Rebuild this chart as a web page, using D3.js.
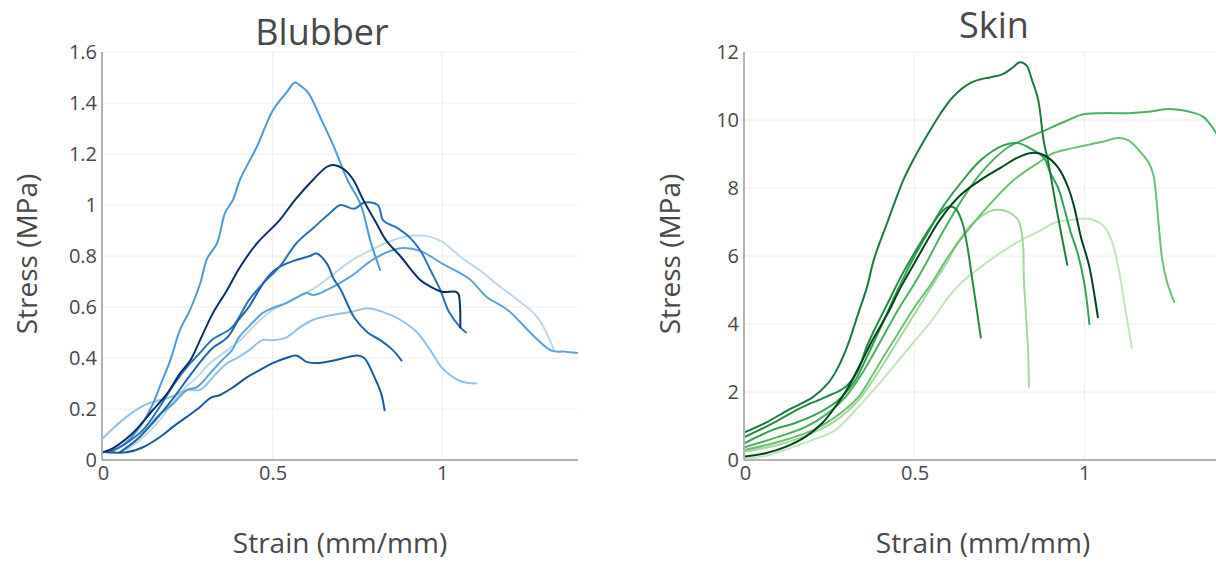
<!DOCTYPE html>
<html><head><meta charset="utf-8">
<script src="https://cdn.jsdelivr.net/npm/d3@7"></script>
<style>body{margin:0;background:#fff;}svg{display:block;font-family:"Open Sans",sans-serif;}</style>
</head><body><svg id="c" width="1216" height="563"></svg>
<script>
// ---- Data ----
const panelTitles = ["Blubber", "Skin"];
const xTickValues = [0, 0.5, 1];
const xTickLabels = ["0", "0.5", "1"];
const blubberYTicks = [0, 0.2, 0.4, 0.6, 0.8, 1, 1.2, 1.4, 1.6];
const blubberYTickLabels = ["0", "0.2", "0.4", "0.6", "0.8", "1", "1.2", "1.4", "1.6"];
const skinYTicks = [0, 2, 4, 6, 8, 10, 12];
const skinYTickLabels = ["0", "2", "4", "6", "8", "10", "12"];

const blubberColors = ["#bcd7ee", "#92c3e4", "#5ba3d8", "#4b9bd5", "#2b72b8", "#2166ac", "#175aa0", "#0a2f6b"];
const blubberSeries = [
  // lightest, peak ~0.88
  [[0.07,0.04],[0.109,0.078],[0.16,0.145],[0.198,0.21],[0.236,0.275],[0.277,0.325],[0.316,0.38],[0.366,0.43],[0.404,0.47],[0.454,0.537],[0.50,0.59],[0.54,0.615],[0.63,0.68],[0.67,0.72],[0.73,0.78],[0.77,0.81],[0.85,0.86],[0.914,0.88],[0.965,0.875],[1.0,0.855],[1.06,0.79],[1.11,0.745],[1.16,0.69],[1.22,0.63],[1.28,0.56],[1.33,0.43]],
  // peak ~0.59
  [[0,0.086],[0.07,0.17],[0.13,0.22],[0.168,0.235],[0.206,0.25],[0.248,0.275],[0.286,0.275],[0.324,0.325],[0.366,0.38],[0.395,0.40],[0.43,0.43],[0.47,0.47],[0.50,0.47],[0.54,0.48],[0.58,0.52],[0.62,0.55],[0.68,0.57],[0.73,0.58],[0.78,0.595],[0.826,0.58],[0.876,0.55],[0.926,0.50],[0.965,0.43],[1.0,0.36],[1.053,0.31],[1.1,0.30]],
  // peak ~0.83, ends at 1.4
  [[0.05,0.03],[0.1,0.08],[0.168,0.18],[0.206,0.22],[0.248,0.275],[0.277,0.286],[0.316,0.34],[0.35,0.39],[0.38,0.43],[0.40,0.48],[0.44,0.537],[0.47,0.576],[0.50,0.596],[0.54,0.615],[0.60,0.655],[0.62,0.647],[0.66,0.667],[0.73,0.72],[0.80,0.79],[0.876,0.83],[0.935,0.82],[1.0,0.77],[1.08,0.71],[1.13,0.64],[1.18,0.60],[1.2,0.58],[1.32,0.43],[1.36,0.425],[1.40,0.42]],
  // peak ~1.48
  [[0,0.03],[0.05,0.05],[0.109,0.13],[0.147,0.22],[0.168,0.29],[0.198,0.39],[0.227,0.51],[0.257,0.59],[0.286,0.69],[0.307,0.79],[0.336,0.85],[0.36,0.97],[0.383,1.02],[0.404,1.10],[0.454,1.23],[0.50,1.37],[0.54,1.44],[0.566,1.48],[0.58,1.47],[0.605,1.44],[0.64,1.345],[0.68,1.23],[0.72,1.1],[0.76,1.0],[0.79,0.85],[0.817,0.745]],
  // peak ~1.0
  [[0.02,0.03],[0.07,0.067],[0.118,0.118],[0.168,0.21],[0.206,0.29],[0.248,0.365],[0.286,0.42],[0.32,0.47],[0.38,0.52],[0.43,0.627],[0.47,0.69],[0.52,0.757],[0.57,0.85],[0.62,0.91],[0.67,0.97],[0.70,1.0],[0.74,0.985],[0.77,1.01],[0.81,1.0],[0.826,0.94],[0.867,0.91],[0.906,0.87],[0.936,0.82],[0.965,0.745],[0.994,0.667],[1.02,0.58],[1.053,0.52],[1.07,0.50]],
  // peak ~0.81
  [[0.05,0.03],[0.1,0.08],[0.15,0.15],[0.2,0.23],[0.25,0.32],[0.29,0.39],[0.324,0.44],[0.366,0.48],[0.40,0.55],[0.43,0.60],[0.46,0.667],[0.49,0.725],[0.52,0.757],[0.56,0.78],[0.61,0.80],[0.63,0.81],[0.66,0.77],[0.68,0.71],[0.70,0.67],[0.74,0.56],[0.78,0.50],[0.817,0.47],[0.855,0.43],[0.88,0.39]],
  // peak ~0.41
  [[0.01,0.03],[0.07,0.03],[0.118,0.05],[0.168,0.09],[0.206,0.13],[0.248,0.17],[0.286,0.208],[0.316,0.243],[0.345,0.255],[0.384,0.286],[0.425,0.325],[0.463,0.353],[0.50,0.38],[0.54,0.40],[0.57,0.41],[0.60,0.385],[0.63,0.38],[0.68,0.39],[0.71,0.40],[0.75,0.41],[0.77,0.40],[0.80,0.325],[0.82,0.26],[0.83,0.195]],
  // navy, peak ~1.16
  [[0,0.03],[0.03,0.047],[0.088,0.106],[0.147,0.196],[0.189,0.26],[0.227,0.34],[0.257,0.39],[0.286,0.47],[0.324,0.576],[0.366,0.667],[0.404,0.757],[0.454,0.85],[0.52,0.94],[0.566,1.02],[0.62,1.10],[0.66,1.15],[0.68,1.157],[0.71,1.14],[0.737,1.10],[0.767,1.02],[0.805,0.93],[0.835,0.86],[0.876,0.80],[0.935,0.706],[0.965,0.68],[1.0,0.66],[1.04,0.66],[1.048,0.65],[1.053,0.52]]
];

const skinColors = ["#c2e6bb", "#a3d99d", "#6dc072", "#4db063", "#35a153", "#238b45", "#1b7a3d", "#00441b"];
const skinSeries = [
  // lightest, peak ~7.1
  [[0,0.05],[0.06,0.12],[0.118,0.3],[0.2,0.59],[0.266,0.88],[0.334,1.56],[0.4,2.3],[0.45,2.9],[0.5,3.5],[0.55,4.1],[0.6,4.8],[0.636,5.2],[0.695,5.68],[0.754,6.1],[0.814,6.47],[0.873,6.76],[0.91,6.97],[0.96,7.06],[1.01,7.1],[1.04,7.0],[1.06,6.85],[1.08,6.47],[1.1,5.68],[1.12,4.5],[1.14,3.3]],
  // light, peak ~7.4
  [[0,0.25],[0.1,0.45],[0.2,0.8],[0.266,1.15],[0.334,1.75],[0.4,2.7],[0.45,3.5],[0.5,4.3],[0.55,5.1],[0.6,5.9],[0.627,6.4],[0.675,7.0],[0.734,7.35],[0.775,7.3],[0.805,7.06],[0.814,6.76],[0.82,6.26],[0.822,5.3],[0.828,4.3],[0.834,3.3],[0.837,2.15]],
  // peak ~9.5
  [[0,0.3],[0.098,0.53],[0.2,0.88],[0.266,1.26],[0.334,1.85],[0.355,2.15],[0.4,2.9],[0.45,3.7],[0.5,4.5],[0.55,5.2],[0.6,6.0],[0.657,6.76],[0.725,7.56],[0.793,8.24],[0.864,8.74],[0.91,9.03],[0.97,9.18],[1.05,9.35],[1.1,9.47],[1.13,9.4],[1.16,9.12],[1.19,8.74],[1.205,8.32],[1.21,7.94],[1.22,6.85],[1.23,5.88],[1.245,5.2],[1.265,4.65]],
  // peak ~10.3
  [[0,0.38],[0.098,0.68],[0.178,0.97],[0.245,1.38],[0.296,1.85],[0.346,2.56],[0.4,3.5],[0.45,4.4],[0.5,5.2],[0.54,5.9],[0.577,6.6],[0.636,7.6],[0.695,8.44],[0.775,9.2],[0.805,9.35],[0.873,9.65],[0.953,10.0],[0.99,10.15],[1.05,10.2],[1.13,10.2],[1.19,10.24],[1.25,10.32],[1.31,10.24],[1.35,10.1],[1.39,9.6],[1.42,9.1]],
  // peak ~9.3
  [[0,0.5],[0.08,0.88],[0.148,1.09],[0.216,1.38],[0.275,1.76],[0.325,2.35],[0.355,2.94],[0.4,3.9],[0.45,5.0],[0.5,6.0],[0.54,6.7],[0.577,7.35],[0.636,8.15],[0.695,8.82],[0.763,9.26],[0.805,9.32],[0.843,9.15],[0.88,8.9],[0.9,8.44],[0.923,8.0],[0.94,7.44],[0.96,6.7],[0.98,6.1],[1.0,5.2],[1.015,4.0]],
  // peak ~7.5
  [[0,0.68],[0.06,0.97],[0.1,1.18],[0.17,1.56],[0.237,1.85],[0.296,2.15],[0.334,2.65],[0.355,3.24],[0.38,3.8],[0.42,4.6],[0.46,5.4],[0.5,6.1],[0.55,6.9],[0.58,7.3],[0.6,7.45],[0.62,7.4],[0.64,7.0],[0.655,6.3],[0.67,5.3],[0.685,4.3],[0.695,3.6]],
  // peak ~11.7
  [[0,0.82],[0.06,1.09],[0.127,1.47],[0.2,1.85],[0.245,2.26],[0.275,2.74],[0.305,3.44],[0.334,4.32],[0.36,5.1],[0.38,5.9],[0.42,7.0],[0.467,8.24],[0.5,8.9],[0.54,9.6],[0.577,10.2],[0.615,10.7],[0.666,11.1],[0.695,11.2],[0.725,11.26],[0.76,11.35],[0.79,11.55],[0.81,11.7],[0.83,11.6],[0.845,11.2],[0.864,10.6],[0.88,9.4],[0.893,8.8],[0.91,7.85],[0.93,6.76],[0.95,5.74]],
  // darkest, peak ~9.0
  [[0,0.1],[0.06,0.2],[0.118,0.38],[0.178,0.68],[0.228,1.09],[0.266,1.56],[0.305,2.15],[0.346,2.94],[0.38,3.6],[0.42,4.3],[0.46,5.1],[0.5,5.8],[0.54,6.5],[0.577,7.1],[0.636,7.8],[0.695,8.24],[0.754,8.6],[0.805,8.9],[0.843,9.03],[0.88,8.97],[0.923,8.6],[0.953,8.0],[0.97,7.45],[0.99,6.56],[1.015,5.68],[1.04,4.2]]
];

// ---- Layout ----
const svg = d3.select("#c");
const panels = [
  {title: panelTitles[0], x0: 103, x1: 578, yMax: 1.6, yTicks: blubberYTicks, yLabels: blubberYTickLabels, series: blubberSeries, colors: blubberColors, titleX: 322, titleY: 45, yTitleX: 37, xTitleX: 340},
  {title: panelTitles[1], x0: 745, x1: 1220, yMax: 12, yTicks: skinYTicks, yLabels: skinYTickLabels, series: skinSeries, colors: skinColors, titleX: 994, titleY: 38, yTitleX: 680, xTitleX: 983}
];
const yTop = 52, yBot = 460;
const textColor = "#484848";

panels.forEach((p, i) => {
  const x = d3.scaleLinear().domain([0, 1.4]).range([p.x0, p.x1]);
  const y = d3.scaleLinear().domain([0, p.yMax]).range([yBot, yTop]);
  const g = svg.append("g");
  const clipId = "clip" + i;
  svg.append("clipPath").attr("id", clipId).append("rect")
    .attr("x", p.x0).attr("y", yTop - 2).attr("width", p.x1 - p.x0).attr("height", yBot - yTop + 4);

  // gridlines
  g.append("g").selectAll("line").data(p.yTicks.slice(1)).join("line")
    .attr("x1", p.x0).attr("x2", Math.min(p.x1, 1216)).attr("y1", d => y(d)).attr("y2", d => y(d))
    .attr("stroke", "#eee").attr("stroke-width", 1);
  g.append("g").selectAll("line").data(xTickValues.slice(1)).join("line")
    .attr("x1", d => x(d)).attr("x2", d => x(d)).attr("y1", yTop).attr("y2", yBot)
    .attr("stroke", "#eee").attr("stroke-width", 1);

  // lines
  const line = d3.line().x(d => x(d[0])).y(d => y(d[1])).curve(d3.curveMonotoneX);
  g.append("g").attr("clip-path", `url(#${clipId})`).selectAll("path").data(p.series).join("path")
    .attr("d", d => d3.line().x(v => x(v[0])).y(v => y(v[1])).curve(d3.curveCatmullRom.alpha(0.5))(d)).attr("fill", "none")
    .attr("stroke", (d, k) => p.colors[k]).attr("stroke-width", 2).attr("stroke-linejoin", "round").attr("stroke-linecap", "round");

  // axes
  const xAxis = d3.axisBottom(x).tickValues(xTickValues).tickFormat((d, k) => xTickLabels[k]).tickSize(0).tickPadding(6);
  const xg = g.append("g").attr("transform", `translate(0,${yBot})`).call(xAxis);
  xg.select(".domain").attr("stroke", "#999").attr("stroke-width", 1.5).attr("d", `M${p.x0 - 1},0H${p.x1}`);
  xg.selectAll("text").attr("fill", textColor).attr("font-size", 20).attr("font-family", "Open Sans");

  const yAxis = d3.axisLeft(y).tickValues(p.yTicks).tickFormat((d, k) => p.yLabels[k]).tickSize(0).tickPadding(5);
  const yg = g.append("g").attr("transform", `translate(${p.x0 - 1},0)`).call(yAxis);
  yg.select(".domain").attr("stroke", "#999").attr("stroke-width", 1.5).attr("d", `M0,${yTop}V${yBot}`);
  yg.selectAll("text").attr("fill", textColor).attr("font-size", 20).attr("font-family", "Open Sans");

  // titles
  g.append("text").attr("x", p.titleX).attr("y", p.titleY).attr("text-anchor", "middle")
    .attr("font-size", 36).attr("fill", textColor).text(p.title);
  g.append("text").attr("x", p.xTitleX).attr("y", 553).attr("text-anchor", "middle")
    .attr("font-size", 28).attr("fill", textColor).text("Strain (mm/mm)");
  g.append("text").attr("transform", `translate(${p.yTitleX},254) rotate(-90)`).attr("text-anchor", "middle")
    .attr("font-size", 28).attr("fill", textColor).text("Stress (MPa)");
});
</script></body></html>
